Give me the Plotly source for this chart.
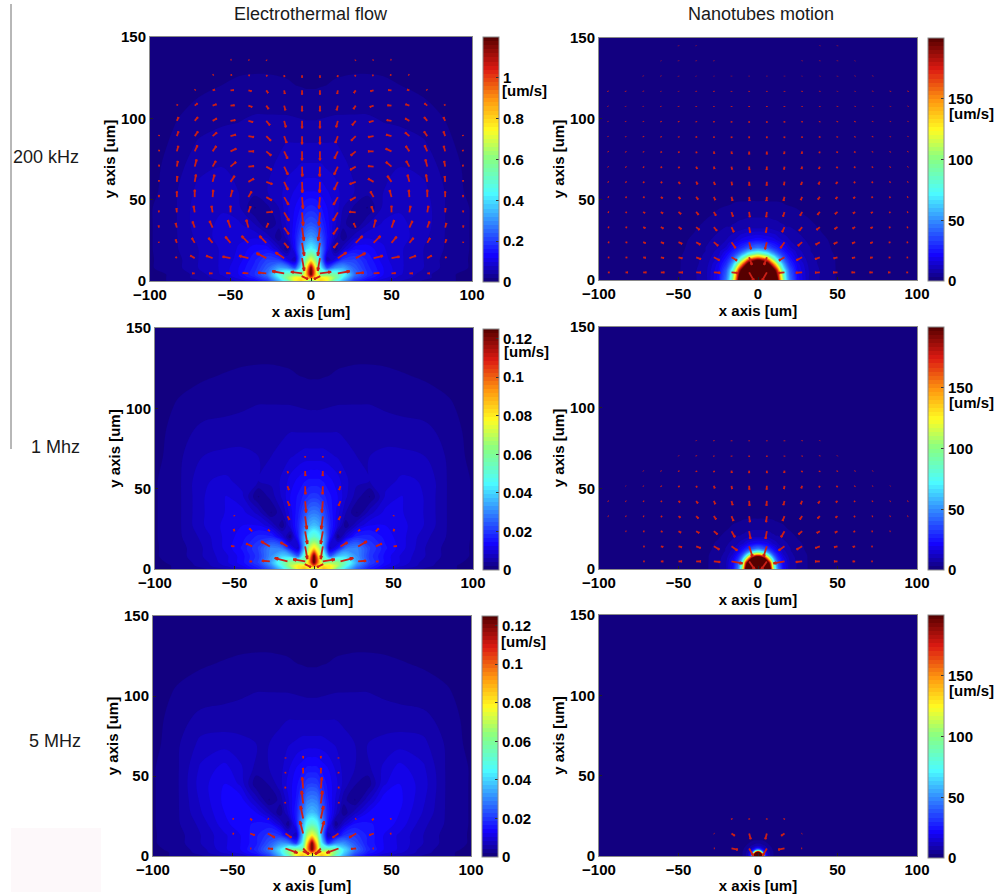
import numpy as np
import plotly.graph_objects as go

W, H = 994, 894
FONT = "Liberation Sans"

# ---------- field grids (right half / upper half, mirrored about x = 0) ----------
left_x = [0, 3, 6, 10, 15, 20, 27, 35, 45, 55, 70, 85, 100]
left_y = [0, 2, 4, 8, 13, 20, 27, 35, 45, 55, 70, 85, 100, 120, 150]

# percent of colour-scale maximum, rows follow left_y, columns follow left_x
tl_pct = [
    [40, 58, 68, 62, 40, 28, 15, 10, 7, 5, 3, 2, 1],
    [80, 64, 64, 62, 50, 34, 19, 13, 9, 6, 4, 2, 1],
    [100, 68, 46, 48, 46, 38, 22, 15, 10, 7, 4, 2, 1],
    [98, 62, 36, 18, 26, 27, 20, 14, 10, 7, 5, 2.5, 1.5],
    [60, 50, 26, 5, 9, 16, 17, 13, 9, 7, 5, 2.5, 1.5],
    [36, 32, 24, 11, 2, 6, 11, 11, 8.5, 7, 5, 3, 1.5],
    [26, 24, 19, 12, 6, 2, 6, 8, 8, 7.5, 5.5, 3, 1.5],
    [19, 18, 15, 11, 7, 4, 1.5, 5, 7, 7, 6, 3, 1.5],
    [14, 13.5, 12, 10, 8, 5, 3, 1.5, 5.5, 6.5, 6, 3, 1.5],
    [10, 10, 9.5, 8.5, 7.5, 6, 5, 4, 5, 6, 5.5, 3, 1],
    [7, 7, 7, 6.5, 6, 5.5, 4.5, 4.5, 4.5, 5, 4.5, 2.5, 1],
    [5, 5, 5, 5, 5, 4.5, 4.5, 4.5, 4, 4, 3.5, 2, 0.7],
    [3.2, 3.2, 3.3, 3.4, 3.5, 3.5, 3.5, 3.5, 3.2, 3, 2.5, 1.5, 0.5],
    [1.5, 1.5, 1.6, 1.7, 1.9, 2, 2.1, 2.1, 2, 1.7, 1.2, 0.7, 0.3],
    [0.3, 0.3, 0.3, 0.3, 0.3, 0.3, 0.3, 0.3, 0.3, 0.3, 0.3, 0.2, 0.1],
]
ml_pct = [
    [50, 62, 70, 64, 44, 32, 20, 13, 8, 5, 3, 2, 1],
    [80, 65, 65, 64, 54, 38, 24, 15, 10, 7, 4, 2, 1],
    [100, 72, 48, 52, 52, 42, 27, 17, 11, 8, 4, 2.5, 1],
    [100, 66, 42, 20, 30, 32, 25, 16, 11, 8, 5, 2.5, 1.5],
    [65, 56, 30, 6, 12, 22, 24, 17, 12, 9, 5, 2.5, 1.5],
    [42, 38, 28, 13, 2, 8, 14, 14, 11, 9, 5.5, 3, 1.5],
    [30, 28, 22, 14, 8, 2, 7, 10, 10, 9, 6.5, 3, 1.5],
    [23, 22, 18, 13, 9, 5, 1.5, 6, 9, 8.5, 6.5, 3, 1.5],
    [16, 15.5, 14, 12, 10, 7, 4, 1.5, 7, 8.5, 6.5, 3, 1.5],
    [12, 12, 11.5, 10.5, 9, 7, 5.5, 5, 6, 7, 6.5, 3, 1.5],
    [7.5, 7.5, 7.5, 7, 6.5, 6, 5, 5, 5.5, 5.5, 5, 3, 1],
    [5, 5, 5, 5, 5, 4.5, 4.5, 4.5, 4.2, 4, 4, 2.5, 1],
    [3.2, 3.2, 3.3, 3.4, 3.5, 3.5, 3.5, 3.5, 3.2, 3, 2.5, 2, 0.7],
    [1.5, 1.5, 1.6, 1.7, 1.9, 2, 2.1, 2.1, 2, 1.8, 1.5, 1, 0.5],
    [0.3, 0.3, 0.3, 0.3, 0.3, 0.3, 0.3, 0.3, 0.3, 0.3, 0.3, 0.2, 0.1],
]
bl_pct = [
    [50, 62, 70, 62, 40, 28, 16, 10, 7, 5, 3, 2, 1],
    [78, 64, 64, 62, 48, 32, 20, 13, 9, 7, 4, 2, 1],
    [98, 72, 46, 50, 46, 34, 22, 14, 10, 8, 4, 2.5, 1],
    [98, 66, 36, 16, 24, 25, 19, 13, 10, 8, 5, 2.5, 1.5],
    [62, 54, 28, 5, 9, 15, 16, 13, 10, 8, 5, 2.5, 1.5],
    [42, 38, 27, 12, 2, 7, 12, 12, 11, 9.5, 5.5, 3, 1.5],
    [30, 28, 22, 13, 7, 2, 6, 10, 11, 10, 6.5, 3, 1.5],
    [24, 23, 18, 12, 8, 4, 1.5, 6, 11, 10.5, 7, 3, 1.5],
    [17, 16.5, 14, 11, 9, 6, 3.5, 2, 8, 10, 7.5, 3, 1.5],
    [12, 12, 11, 10, 8, 6, 5, 4.5, 7, 9, 7, 3, 1.5],
    [7.5, 7.5, 7.5, 7, 6.5, 6, 5, 5, 5.5, 6, 5.5, 3, 1],
    [5, 5, 5, 5, 5, 4.5, 4.5, 4.5, 4.2, 4, 4, 2.5, 1],
    [3.2, 3.2, 3.3, 3.4, 3.5, 3.5, 3.5, 3.5, 3.2, 3, 2.5, 2, 0.7],
    [1.5, 1.5, 1.6, 1.7, 1.9, 2, 2.1, 2.1, 2, 1.8, 1.5, 1, 0.5],
    [0.3, 0.3, 0.3, 0.3, 0.3, 0.3, 0.3, 0.3, 0.3, 0.3, 0.3, 0.2, 0.1],
]

# Nanotubes motion: one read-off table [um/s], on per-panel node positions [um]
tr_nodes = [0, 6, 10, 12, 14, 16, 18, 20, 25, 32, 40, 50, 75, 160]
mr_nodes = [0, 3.8, 6.3, 7.6, 8.8, 10, 11.3, 12.6, 15.8, 20, 25, 32, 50, 160]
br_nodes = [0, 1.2, 2, 2.4, 2.8, 3.2, 3.6, 4, 5, 6.4, 8, 10, 15, 160]
dome_z = [
    [210, 210, 210, 210, 150, 100, 65, 45, 22, 10, 6, 3, 0.5, 0.2],
    [210, 210, 210, 175, 120, 78, 55, 38, 20, 10, 6, 3, 0.5, 0.2],
    [210, 210, 148, 110, 78, 55, 40, 30, 18, 9, 5.5, 3, 0.5, 0.2],
    [210, 175, 110, 80, 60, 45, 34, 27, 16, 8.5, 5.5, 3, 0.5, 0.2],
    [150, 120, 78, 60, 47, 36, 29, 24, 14, 8, 5, 3, 0.5, 0.2],
    [100, 78, 55, 45, 36, 30, 25, 21, 12.5, 7.5, 5, 2.8, 0.5, 0.2],
    [65, 55, 40, 34, 29, 25, 21, 18, 11.5, 7, 4.5, 2.7, 0.5, 0.2],
    [45, 38, 30, 27, 24, 21, 18, 14, 10, 7, 4.5, 2.5, 0.5, 0.2],
    [22, 20, 18, 16, 14, 12.5, 11.5, 10, 8, 6, 4, 2.3, 0.5, 0.2],
    [10, 10, 9, 8.5, 8, 7.5, 7, 7, 6, 4.5, 3, 2, 0.4, 0.2],
    [6, 6, 5.5, 5.5, 5, 5, 4.5, 4.5, 4, 3, 2.2, 1.5, 0.3, 0.2],
    [3, 3, 3, 3, 3, 2.8, 2.7, 2.5, 2.3, 2, 1.5, 1, 0.3, 0.2],
    [0.5, 0.5, 0.5, 0.5, 0.5, 0.5, 0.5, 0.5, 0.5, 0.4, 0.3, 0.3, 0.2, 0.2],
    [0.2, 0.2, 0.2, 0.2, 0.2, 0.2, 0.2, 0.2, 0.2, 0.2, 0.2, 0.2, 0.2, 0.2],
]

# ---------- quiver grid ----------
arrow_x = [5.56, 16.67, 27.78, 38.89, 50.0, 61.11, 72.22, 83.33, 94.44]
arrow_y = [4.69, 14.06, 23.44, 32.81, 42.19, 51.56, 60.94, 70.31, 79.69,
           89.06, 98.44, 107.81, 117.19, 126.56, 135.94, 145.31]

# arrow length [um] and heading [deg] for x > 0, rows follow arrow_y, columns arrow_x
tl_len = [
    [7, 7.5, 5, 3.5, 2.5, 2, 1.5, 0, 0],
    [8, 6.4, 6.8, 6, 5, 4.3, 3.2, 1.2, 0],
    [8, 4, 6, 6, 5, 4, 3.5, 2.2, 0.8],
    [8, 5, 3, 5, 5, 4.5, 4, 3, 1.3],
    [8, 6, 4, 4, 4, 4, 4, 2.5, 1.2],
    [7, 5.5, 4, 4, 4.5, 4.5, 4.5, 3.5, 1.3],
    [6.5, 5.5, 4, 4, 4.5, 4.5, 4.5, 3.5, 1.2],
    [6, 5.5, 4, 3.5, 4.5, 4, 4.5, 3.5, 1.2],
    [5.5, 5, 4, 3.5, 4, 4, 4, 3.5, 1],
    [5, 4.5, 4, 3.5, 3.5, 3.5, 3.5, 3, 0.8],
    [4.5, 4, 3.5, 3, 3, 3, 3, 2.5, 0],
    [3.5, 3, 2.5, 2.5, 2.5, 2.5, 2.2, 1, 0],
    [2.5, 2.2, 2, 2, 2, 1.5, 0.8, 0, 0],
    [1.5, 1.2, 1, 1, 1, 0.8, 0, 0, 0],
    [0, 0, 0.6, 0.7, 0.7, 0, 0, 0, 0],
]
tl_ang = [
    [8, 10, 5, 5, 3, 0, 0, 0, 0],
    [-100, 33, 27, 14, 10, 20, 30, 45, 0],
    [-100, -130, 45, 45, 50, 50, 60, 70, 80],
    [-98, -125, 115, 75, 70, 65, 70, 75, 80],
    [-95, -120, 175, 110, 90, 80, 80, 85, 85],
    [-95, -120, -150, 120, 105, 95, 90, 90, 90],
    [-92, -115, -160, 150, 125, 105, 100, 95, 90],
    [-92, -115, -150, 175, 140, 120, 105, 100, 95],
    [-90, -115, -140, 180, 155, 125, 115, 105, 100],
    [-90, -110, -135, -170, 165, 140, 125, 110, 100],
    [-90, -105, -130, -165, 170, 150, 130, 115, 0],
    [-90, -105, -125, -160, 175, 160, 140, 120, 0],
    [-90, -100, -125, -165, 175, 160, 130, 0, 0],
    [-90, -100, -130, -160, 170, 150, 0, 0, 0],
    [0, 0, -130, -160, 170, 0, 0, 0, 0],
]
tr_len = [
    [6, 4, 4, 3, 2.7, 2.2, 2, 1.5, 1.2],
    [5, 4, 4, 3.2, 2.5, 2, 1.6, 1.2, 1],
    [4.5, 4.5, 3.5, 3, 2.5, 2, 1.6, 1.2, 1],
    [3.5, 3.5, 3, 2.7, 2.2, 1.8, 1.5, 1.1, 0.9],
    [3.3, 3, 2.6, 2.3, 2, 1.6, 1.3, 1, 0.8],
    [2.6, 2.5, 2.2, 2, 1.7, 1.4, 1.1, 0.9, 0.7],
    [2.4, 2.2, 2, 1.8, 1.5, 1.2, 1, 0.8, 0.6],
    [2, 1.8, 1.6, 1.5, 1.2, 1, 0.8, 0.7, 0.5],
    [1.8, 1.6, 1.4, 1.2, 1, 0.9, 0.7, 0.6, 0.5],
    [1.2, 1.1, 1, 0.9, 0.8, 0.7, 0.6, 0.5, 0.4],
    [1, 0.9, 0.8, 0.7, 0.6, 0.6, 0.5, 0.4, 0.4],
    [0.6, 0.6, 0.5, 0.5, 0.4, 0.4, 0.3, 0.3, 0.3],
    [0.5, 0.5, 0.5, 0.4, 0.4, 0.4, 0.4, 0.4, 0.4],
    [0.3, 0.3, 0.3, 0.3, 0.3, 0.3, 0.3, 0, 0],
    [0, 0, 0.3, 0.3, 0.3, 0.3, 0, 0, 0],
    [0, 0, 0, 0.3, 0.3, 0, 0, 0, 0],
]
tr_ang = [
    [-120, 185, 183, 182, 180, 180, 180, 180, 180],
    [-110, -150, -153, -160, -165, -167, -170, -170, -170],
    [-105, -125, -140, -150, -155, -160, -160, -165, -165],
    [-100, -115, -130, -140, -147, -150, -155, -160, -160],
    [-97, -108, -120, -130, -140, -145, -150, -150, -155],
    [-95, -105, -115, -125, -132, -140, -145, -145, -150],
    [-93, -100, -110, -118, -125, -130, -135, -140, -140],
    [-93, -100, -105, -112, -120, -125, -130, -130, -135],
    [-92, -97, -102, -108, -115, -120, -125, -125, -130],
    [-90, -95, -100, -105, -110, -115, -120, -120, -125],
    [-90, -95, -100, -105, -110, -115, -120, -120, -120],
    [-90, -95, -100, -100, -105, -110, -115, -115, -120],
    [-90, -90, -95, -100, -105, -110, -110, -115, -115],
    [-90, -90, -95, -100, -100, -105, -110, 0, 0],
    [0, 0, -95, -100, -100, -105, 0, 0, 0],
    [0, 0, 0, -100, -100, 0, 0, 0, 0],
]
ml_len = [
    [7.6, 8.3, 5, 1.5, 0, 0, 0, 0, 0],
    [8, 5, 6.3, 4.2, 2, 0, 0, 0, 0],
    [8, 0, 1.5, 2.5, 1.5, 0, 0, 0, 0],
    [8, 2.5, 0, 0, 0.7, 0, 0, 0, 0],
    [7, 3, 0, 0, 0, 0, 0, 0, 0],
    [5, 2.5, 0, 0, 0, 0, 0, 0, 0],
    [3, 1.3, 0, 0, 0, 0, 0, 0, 0],
    [1, 0, 0, 0, 0, 0, 0, 0, 0],
]
ml_ang = [
    [10, 15, 5, 0, 0, 0, 0, 0, 0],
    [-100, 30, 30, 25, 5, 0, 0, 0, 0],
    [-100, 0, 45, 45, 70, 0, 0, 0, 0],
    [-97, -120, 0, 0, 70, 0, 0, 0, 0],
    [-95, -115, 0, 0, 0, 0, 0, 0, 0],
    [-92, -110, 0, 0, 0, 0, 0, 0, 0],
    [-92, -105, 0, 0, 0, 0, 0, 0, 0],
    [-90, 0, 0, 0, 0, 0, 0, 0, 0],
]
bl_len = [
    [5, 8, 3.2, 0.8, 0, 0, 0, 0, 0],
    [8, 4.5, 5, 3, 1, 0, 0, 0, 0],
    [8, 0, 0.7, 1.5, 1, 0, 0, 0, 0],
    [8, 1, 0, 0, 0, 0, 0, 0, 0],
    [7, 1.2, 0, 0, 0, 0, 0, 0, 0],
    [3.5, 1, 0, 0, 0, 0, 0, 0, 0],
    [1.5, 0.7, 0, 0, 0, 0, 0, 0, 0],
]
bl_ang = [
    [-135, 200, 185, 180, 0, 0, 0, 0, 0],
    [75, -145, -150, -160, -170, 0, 0, 0, 0],
    [78, 0, -135, -135, -150, 0, 0, 0, 0],
    [83, 70, 0, 0, 0, 0, 0, 0, 0],
    [85, 80, 0, 0, 0, 0, 0, 0, 0],
    [88, 85, 0, 0, 0, 0, 0, 0, 0],
    [90, 90, 0, 0, 0, 0, 0, 0, 0],
]
mr_len = [
    [6, 7, 4, 3, 2.2, 1.5, 1, 0, 0],
    [7, 4.5, 4, 3, 2.2, 1.5, 1, 0, 0],
    [4.8, 4.3, 3, 2.2, 1.8, 1.2, 0.9, 0.6, 0],
    [3.8, 3.3, 2.5, 2, 1.5, 1, 0.7, 0.6, 0.5],
    [2.9, 2.7, 2.2, 1.8, 1.3, 0.9, 0.7, 0.5, 0.5],
    [2.3, 2, 1.6, 1.2, 1, 0.7, 0.4, 0.3, 0],
    [1.5, 1.3, 1, 0.9, 0.7, 0.5, 0.4, 0, 0],
    [0.8, 0.7, 0.6, 0.5, 0.4, 0, 0, 0, 0],
    [0.5, 0.5, 0.4, 0.4, 0, 0, 0, 0, 0],
]
mr_ang = [
    [-125, 190, 185, 180, 180, 180, 180, 0, 0],
    [-108, -145, -150, -160, -165, -165, -170, 0, 0],
    [-100, -120, -140, -150, -150, -155, -160, -160, 0],
    [-97, -112, -125, -135, -140, -145, -150, -150, -155],
    [-95, -105, -115, -125, -135, -140, -140, -145, -145],
    [-93, -100, -110, -118, -125, -130, -135, -135, 0],
    [-90, -97, -105, -110, -115, -120, -125, 0, 0],
    [-90, -95, -100, -105, -110, 0, 0, 0, 0],
    [-90, -95, -100, -105, 0, 0, 0, 0, 0],
]
br_len = [
    [5, 4, 0.6, 0, 0, 0, 0, 0, 0],
    [3.7, 2.5, 0.4, 0, 0, 0, 0, 0, 0],
    [0.8, 0.8, 0, 0, 0, 0, 0, 0, 0],
]
br_ang = [
    [-120, -170, 180, 0, 0, 0, 0, 0, 0],
    [-105, -145, -150, 0, 0, 0, 0, 0, 0],
    [-95, -115, 0, 0, 0, 0, 0, 0, 0],
]
# short strokes near the electrode on the flow panels: x, y, length, heading
near_x, near_y, near_len, near_ang = [5.8], [3.0], [4.3], [-155]

# ---------- colours, ticks, text ----------
jet = [[0, "#120076"], [0.11, "#1404ff"], [0.36, "#4cfcff"], [0.5, "#86ff86"],
       [0.62, "#fffc22"], [0.74, "#ff9a10"], [0.87, "#dc1a12"], [1, "#560000"]]
ARROW = "#cc1f16"
FRAME = "#8a8a8a"
flow_ticks = [0, 0.2, 0.4, 0.6, 0.8, 1]
flow2_ticks = [0, 0.02, 0.04, 0.06, 0.08, 0.1, 0.12]
tube_ticks = [0, 50, 100, 150]
col_titles = ["Electrothermal flow", "Nanotubes motion"]
row_labels = ["200 kHz", "1 Mhz", "5 MHz"]
unit_label = "[um/s]"

# panel boxes in page pixels: left, right, top, bottom, bar left, bar top, bar bottom, unit-label x, y
panels = [
    dict(box=(150, 472, 37, 281), bar=(483, 37, 282), unit=(500, 91), zmax=1.2, ticks=flow_ticks),
    dict(box=(599, 917, 38, 280), bar=(928, 38, 281), unit=(947, 113), zmax=200, ticks=tube_ticks),
    dict(box=(155, 473, 328, 569), bar=(483, 329, 570), unit=(502, 352), zmax=0.125, ticks=flow2_ticks),
    dict(box=(599, 917, 327, 569), bar=(928, 327, 570), unit=(947, 403), zmax=200, ticks=tube_ticks),
    dict(box=(153, 471, 616, 856), bar=(482, 616, 857), unit=(499, 641), zmax=0.125, ticks=flow2_ticks),
    dict(box=(599, 917, 615, 856), bar=(928, 615, 858), unit=(947, 690), zmax=200, ticks=tube_ticks),
]


def mirror_nodes(n):
    n = np.asarray(n, float)
    return np.concatenate([-n[:0:-1], n])


def mirror_rows(z):
    z = np.asarray(z, float)
    return np.hstack([z[:, :0:-1], z])


def arrow_paths(lengths, angles, ex=None):
    xs, ys = [], []

    def add(x0, y0, L, deg, sign):
        if L <= 0:
            return
        a = np.radians(deg)
        u, v = L * np.cos(a) * sign, L * np.sin(a)
        x1, y1 = x0 + u, y0 + v
        xs.extend([x0, x1, None])
        ys.extend([y0, y1, None])
        if L > 1.2:
            head = np.arctan2(v, u)
            for d in (2.85, -2.85):
                xs.extend([x1, x1 + 0.28 * L * np.cos(head + d), None])
                ys.extend([y1, y1 + 0.28 * L * np.sin(head + d), None])

    for i, (rl, ra) in enumerate(zip(lengths, angles)):
        for j, (L, deg) in enumerate(zip(rl, ra)):
            add(arrow_x[j], arrow_y[i], L, deg, 1)
            add(-arrow_x[j], arrow_y[i], L, deg, -1)
    if ex:
        for x0, y0, L, deg in zip(*ex):
            add(x0, y0, L, deg, 1)
            add(-x0, y0, L, deg, -1)
    return xs, ys


near = (near_x, near_y, near_len, near_ang)
fields = [
    (left_x, left_y, np.array(tl_pct) * 1.2 / 100, tl_len, tl_ang, near),
    (tr_nodes, tr_nodes, dome_z, tr_len, tr_ang, None),
    (left_x, left_y, np.array(ml_pct) * 0.125 / 100, ml_len, ml_ang, near),
    (mr_nodes, mr_nodes, dome_z, mr_len, mr_ang, None),
    (left_x, left_y, np.array(bl_pct) * 0.125 / 100, bl_len, bl_ang, near),
    (br_nodes, br_nodes, dome_z, br_len, br_ang, None),
]

fig = go.Figure()
annotations, layout_axes = [], {}
tfont = dict(family=FONT, size=15, color="black", weight=700)

for k, (p, f) in enumerate(zip(panels, fields), start=1):
    l, r, t, b = p["box"]
    bl_, bt, bb = p["bar"]
    nx, ny, z, al, aa, ex = f
    xn, yn = f"x{k}", f"y{k}"
    fig.add_trace(go.Contour(
        x=mirror_nodes(nx), y=ny, z=mirror_rows(z), xaxis=xn, yaxis=yn,
        colorscale=jet, zmin=0, zmax=p["zmax"], autocontour=False,
        contours=dict(start=0, end=p["zmax"], size=p["zmax"] / 60,
                      coloring="fill", showlines=False),
        line=dict(width=0, smoothing=1.0), hoverinfo="skip",
        colorbar=dict(
            x=bl_ / W, xanchor="left", xpad=0, ypad=0,
            y=1 - bb / H, yanchor="bottom", lenmode="pixels", len=bb - bt,
            thicknessmode="pixels", thickness=16,
            outlinecolor=FRAME, outlinewidth=1, borderwidth=0,
            tickmode="array", tickvals=p["ticks"],
            ticktext=[str(v) for v in p["ticks"]],
            ticks="inside", ticklen=3, tickcolor="#333333",
            tickfont=tfont),
    ))
    ax, ay = arrow_paths(al, aa, ex)
    fig.add_trace(go.Scatter(x=ax, y=ay, xaxis=xn, yaxis=yn, mode="lines",
                             line=dict(color=ARROW, width=1.8), hoverinfo="skip",
                             showlegend=False))
    common = dict(showgrid=False, zeroline=False, showline=True, mirror=True,
                  linecolor=FRAME, linewidth=1, ticks="inside", ticklen=3,
                  tickcolor="#222222", tickfont=tfont, layer="above traces")
    layout_axes[f"xaxis{k}"] = dict(
        common, domain=[l / W, r / W], range=[-100, 100], anchor=yn,
        tickmode="array", tickvals=[-100, -50, 0, 50, 100],
        title=dict(text="x axis [um]", font=tfont, standoff=0))
    layout_axes[f"yaxis{k}"] = dict(
        common, domain=[1 - b / H, 1 - t / H], range=[0, 150], anchor=xn,
        tickmode="array", tickvals=[0, 50, 100, 150],
        title=dict(text="y axis [um]", font=tfont, standoff=1))
    annotations.append(dict(
        text=unit_label, xref="paper", yref="paper", x=p["unit"][0] / W, y=1 - p["unit"][1] / H,
        xanchor="left", yanchor="middle", showarrow=False, font=tfont))

plain = dict(family=FONT, size=18, color="#1a1a1a")
for text, cx in zip(col_titles, [311, 761]):
    annotations.append(dict(text=text, xref="paper", yref="paper", x=cx / W, y=1 - 14 / H,
                            xanchor="center", yanchor="middle", showarrow=False, font=plain))
for text, cx, cy in zip(row_labels, [46, 55, 55], [157, 447, 741]):
    annotations.append(dict(text=text, xref="paper", yref="paper", x=cx / W, y=1 - cy / H,
                            xanchor="center", yanchor="middle", showarrow=False, font=plain))

fig.update_layout(
    width=W, height=H, autosize=False,
    margin=dict(l=0, r=0, t=0, b=0, pad=0, autoexpand=False),
    paper_bgcolor="white", plot_bgcolor="white", showlegend=False,
    font=dict(family=FONT), annotations=annotations,
    shapes=[
        dict(type="line", xref="paper", yref="paper", x0=11 / W, x1=11 / W,
             y0=1 - 4 / H, y1=1 - 449 / H, line=dict(color="#707070", width=1)),
        dict(type="rect", xref="paper", yref="paper", x0=11 / W, x1=101 / W,
             y0=1 - 828 / H, y1=1 - 892 / H, line=dict(width=0), fillcolor="#fdf8fa",
             layer="below"),
    ],
    **layout_axes,
)
fig.write_html("out.html", config=dict(displayModeBar=False),
               post_script="document.body.style.margin='0';")
